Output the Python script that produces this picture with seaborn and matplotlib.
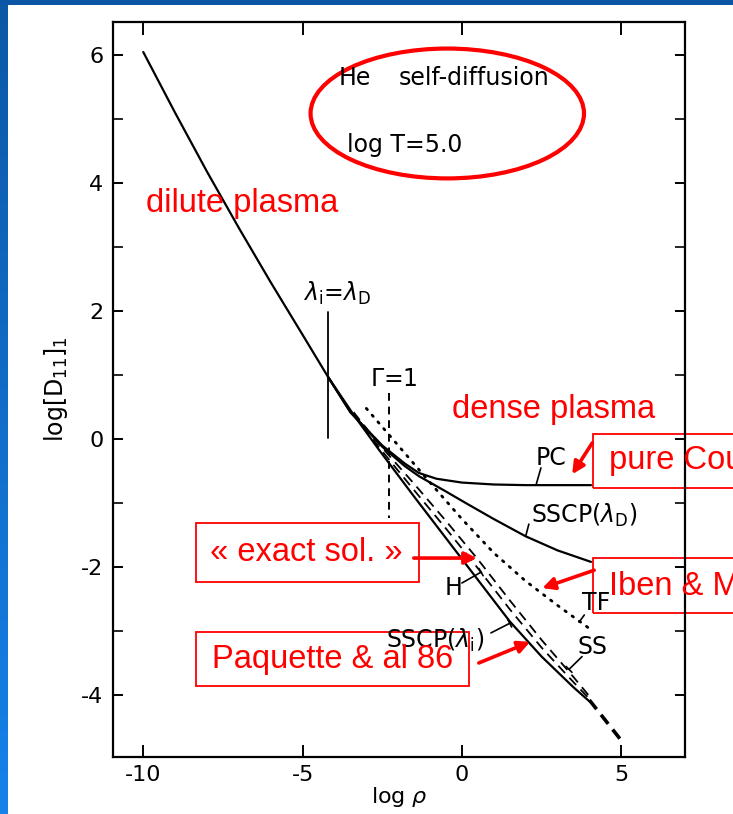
import numpy as np
import pandas as pd
import matplotlib
matplotlib.use("Agg")
import matplotlib.pyplot as plt
import seaborn as sns
from matplotlib.patches import Ellipse, Rectangle
from matplotlib.colors import LinearSegmentedColormap
import matplotlib.ticker as mticker

# ---------------- data ----------------
trunk_x = [-10.0, -9.0, -8.0, -7.0, -6.0, -5.0, -4.2]
trunk_y = [6.05, 5.10, 4.18, 3.30, 2.45, 1.63, 0.97]

pc_x = [-3.5, -2.5, -1.8, -1.35, -0.8, 0.0, 1.0, 2.0, 4.05]
pc_y = [0.42, -0.10, -0.38, -0.53, -0.62, -0.68, -0.71, -0.72, -0.72]

sscpD_x = [-3.5, -2.5, -1.8, -1.35, -0.5, 0.12, 1.0, 2.0, 3.0, 4.05]
sscpD_y = [0.42, -0.12, -0.42, -0.58, -0.82, -1.00, -1.25, -1.52, -1.74, -1.92]

sscpI_x = [-3.4, -2.6, -1.5, -0.5, 0.5, 1.5, 2.5, 3.5, 4.0]
sscpI_y = [0.38, -0.17, -0.90, -1.55, -2.20, -2.85, -3.40, -3.88, -4.10]

h_x = [-3.4, -2.6, -1.5, -0.5, 0.5, 1.5, 2.5, 3.5, 4.0]
h_y = [0.40, -0.13, -0.80, -1.40, -2.02, -2.66, -3.26, -3.80, -4.06]

ss_x = [-3.4, -2.6, -1.5, -0.5, 0.5, 1.5, 2.5, 3.5, 4.0]
ss_y = [0.42, -0.08, -0.70, -1.28, -1.88, -2.52, -3.14, -3.72, -4.02]

tf_x = [-3.0, -2.0, -1.0, 0.0, 1.0, 2.0, 3.0, 4.05]
tf_y = [0.48, -0.10, -0.68, -1.25, -1.78, -2.22, -2.60, -2.98]

tail_x = [4.0, 5.03]
tail_y = [-4.08, -4.73]

x_ticks = [-10, -5, 0, 5]
x_ticklabels = ["-10", "-5", "0", "5"]
y_ticks = [-4, -2, 0, 2, 4, 6]
y_ticklabels = ["-4", "-2", "0", "2", "4", "6"]

# ---------------- figure ----------------
sns.set_theme(style="ticks")
plt.rcParams["font.family"] = ["DejaVu Sans"]
plt.rcParams["axes.unicode_minus"] = False

W, H = 733, 814
fig = plt.figure(figsize=(W / 100, H / 100), dpi=100)
fig.patch.set_facecolor("white")

L, R, T, B = 113, 685, 22, 757
ax = fig.add_axes([L / W, 1 - B / H, (R - L) / W, (B - T) / H])
ax.set_facecolor("white")


def curve(xs, ys, name):
    return pd.DataFrame({"x": xs, "y": ys, "curve": name})


solid_kw = dict(color="black", linewidth=1.6, estimator=None, sort=False, legend=False)
sns.lineplot(data=curve(trunk_x, trunk_y, "trunk"), x="x", y="y", ax=ax, **solid_kw)
sns.lineplot(data=curve(trunk_x[-1:] + pc_x, trunk_y[-1:] + pc_y, "PC"), x="x", y="y", ax=ax, **solid_kw)
sns.lineplot(data=curve(trunk_x[-1:] + sscpD_x, trunk_y[-1:] + sscpD_y, "SSCP_D"), x="x", y="y", ax=ax, **solid_kw)
sns.lineplot(data=curve(trunk_x[-1:] + sscpI_x, trunk_y[-1:] + sscpI_y, "SSCP_i"), x="x", y="y", ax=ax, **solid_kw)

dash_kw = dict(color="black", linewidth=1.3, estimator=None, sort=False, legend=False,
               linestyle=(0, (5.5, 3.5)))
sns.lineplot(data=curve(h_x, h_y, "H"), x="x", y="y", ax=ax, **dash_kw)
sns.lineplot(data=curve(ss_x, ss_y, "SS"), x="x", y="y", ax=ax, **dash_kw)

sns.lineplot(data=curve(tf_x, tf_y, "TF"), x="x", y="y", ax=ax, color="black", linewidth=2.0,
             estimator=None, sort=False, legend=False, linestyle=(0, (0.6, 2.6)),
             dash_capstyle="round")
sns.lineplot(data=curve(tail_x, tail_y, "tail"), x="x", y="y", ax=ax, color="black", linewidth=2.6,
             estimator=None, sort=False, legend=False, linestyle=(0, (3.2, 2.0)))

# reference vertical markers
ax.plot([-4.21, -4.21], [0.02, 1.98], color="black", lw=1.3)
ax.plot([-2.3, -2.3], [0.72, -1.23], color="black", lw=1.4, linestyle=(0, (4, 3)))

# axes limits / ticks
ax.set_xlim(-10.95, 7.0)
ax.set_ylim(-4.97, 6.52)
ax.set_xticks(x_ticks)
ax.set_xticklabels(x_ticklabels)
ax.set_yticks(y_ticks)
ax.set_yticklabels(y_ticklabels)
ax.yaxis.set_minor_locator(mticker.MultipleLocator(1))
ax.tick_params(axis="x", which="major", direction="in", length=9, width=1.4,
               top=True, bottom=True, labelsize=16, pad=6, colors="black")
ax.tick_params(axis="y", which="major", direction="in", length=7.5, width=1.4,
               left=True, right=True, labelsize=16, pad=7, colors="black")
ax.tick_params(axis="y", which="minor", direction="in", length=7.5, width=1.4,
               left=True, right=True)
for s in ax.spines.values():
    s.set_visible(True)
    s.set_color("black")
    s.set_linewidth(1.6)

ax.set_xlabel(r"log $\rho$", fontsize=16, labelpad=0, color="black")
ax.set_ylabel(r"log$\left[\mathrm{D_{11}}\right]_\mathrm{1}$", fontsize=17, labelpad=8, color="black")

# ---------------- black labels from the original plot ----------------
lab = dict(color="black", fontsize=17, ha="center", va="center")
ax.text(-3.93, 2.28, r"$\lambda_\mathrm{i}$=$\lambda_\mathrm{D}$", **lab)
ax.text(-2.14, 0.94, r"$\Gamma$=1", **lab)
ax.text(2.8, -0.30, "PC", **lab)
ax.text(3.84, -1.19, r"SSCP($\lambda_\mathrm{D}$)", **lab)
ax.text(-0.25, -2.33, "H", **lab)
ax.text(4.21, -2.56, "TF", **lab)
ax.text(4.09, -3.25, "SS", **lab)
ax.text(-0.85, -3.14, r"SSCP($\lambda_\mathrm{i}$)", **lab)

lead = dict(arrowstyle="-", color="black", lw=1.2, shrinkA=0, shrinkB=0)
barlead = dict(arrowstyle="-[, widthB=0.25, lengthB=0", color="black", lw=1.2, shrinkA=0, shrinkB=0)
ax.annotate("", xy=(2.48, -0.45), xytext=(2.33, -0.71), arrowprops=lead)
ax.annotate("", xy=(2.1, -1.33), xytext=(2.0, -1.52), arrowprops=lead)
ax.annotate("", xy=(0.6, -2.08), xytext=(0.0, -2.25), arrowprops=barlead)
ax.annotate("", xy=(3.84, -2.75), xytext=(3.68, -2.86), arrowprops=lead)
ax.annotate("", xy=(3.36, -3.60), xytext=(3.77, -3.40), arrowprops=barlead)
ax.annotate("", xy=(1.5, -2.88), xytext=(0.91, -3.03), arrowprops=barlead)

ax.text(-3.87, 5.64, "He", color="black", fontsize=17, ha="left", va="center")
ax.text(-1.98, 5.64, "self-diffusion", color="black", fontsize=17, ha="left", va="center")
ax.text(-3.62, 4.59, "log T=5.0", color="black", fontsize=17, ha="left", va="center")

# ---------------- red slide annotations ----------------
red = "#ff0000"
ax.add_patch(Ellipse((-0.46, 5.09), 8.58, 2.03, fill=False, edgecolor=red, lw=3, clip_on=False))

rfont = dict(color=red, fontsize=23.5, family=["Liberation Sans", "DejaVu Sans"])
ax.text(-9.9, 3.55, "dilute plasma", ha="left", va="baseline", **rfont)
ax.text(-0.31, 0.33, "dense plasma", ha="left", va="baseline", **rfont)

boxes = [(4.12, -0.77, 5.0, 0.85), (-8.36, -2.23, 7.01, 0.92),
         (4.12, -2.72, 5.0, 0.86), (-8.36, -3.86, 8.58, 0.84)]
for (bx, by, bw, bh) in boxes:
    ax.add_patch(Rectangle((bx, by), bw, bh, fill=False, edgecolor=red, lw=1.3, clip_on=False))

ax.text(4.62, -0.34, "pure Coulomb", ha="left", va="center", clip_on=False, **rfont)
ax.text(-4.87, -1.77, "\u00ab exact sol. \u00bb", ha="center", va="center", **rfont)
ax.text(4.62, -2.30, "Iben & MacDonald", ha="left", va="center", clip_on=False, **rfont)
ax.text(-4.06, -3.44, "Paquette & al 86", ha="center", va="center", **rfont)

arr = dict(arrowstyle="-|>", color=red, lw=2.6, mutation_scale=18, shrinkA=0, shrinkB=0)
ax.annotate("", xy=(3.46, -0.55), xytext=(4.09, -0.06), arrowprops=arr, annotation_clip=False)
ax.annotate("", xy=(0.47, -1.86), xytext=(-1.51, -1.86), arrowprops=arr)
ax.annotate("", xy=(2.52, -2.33), xytext=(4.15, -2.05), arrowprops=arr, annotation_clip=False)
ax.annotate("", xy=(2.14, -3.17), xytext=(0.53, -3.50), arrowprops=arr)

# ---------------- slide frame (blue bands) ----------------
cmap = LinearSegmentedColormap.from_list("slide", ["#0c58a6", "#1682ea"])
bax = fig.add_axes([0, 0, 8 / W, 1])
bax.imshow(np.linspace(0, 1, 256).reshape(-1, 1), aspect="auto", cmap=cmap)
bax.set_axis_off()
fig.patches.append(Rectangle((0, 1 - 5 / H), 1, 5 / H, transform=fig.transFigure,
                             facecolor="#0b57a5", edgecolor="none", zorder=10))

fig.savefig("out.png", dpi=100)
